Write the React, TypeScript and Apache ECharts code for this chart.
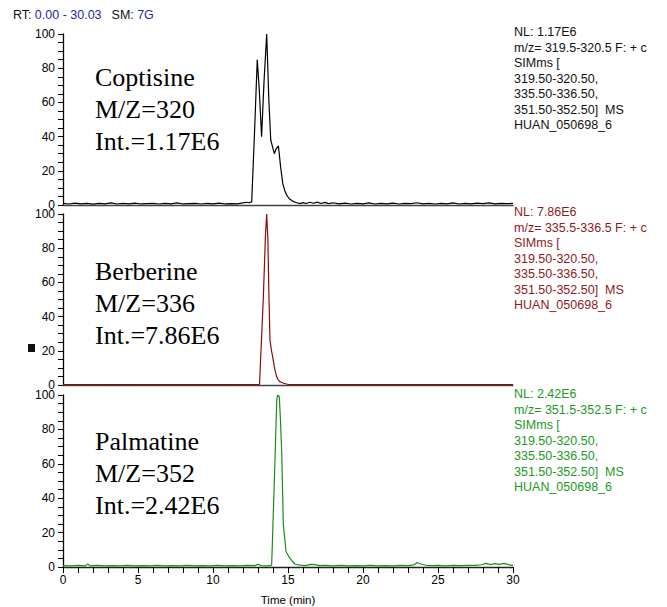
import React, { useEffect, useRef } from "react";
import * as echarts from "echarts";

const xTickValues = [0, 5, 10, 15, 20, 25, 30];
const yTickValues = [0, 20, 40, 60, 80, 100];

const coptisine: [number, number][] = [
  [0, 0.9], [0.4, 0.6], [0.8, 1.1], [1.2, 0.7], [1.6, 1.0], [2.0, 0.5], [2.4, 0.9], [2.8, 0.7],
  [3.2, 1.2], [3.6, 0.6], [4.0, 0.9], [4.4, 0.7], [4.8, 1.1], [5.2, 0.6], [5.6, 0.8], [6.0, 1.0],
  [6.4, 0.6], [6.8, 0.9], [7.2, 0.7], [7.6, 1.2], [8.0, 0.6], [8.4, 0.8], [8.8, 1.0], [9.2, 0.6],
  [9.6, 0.9], [10.0, 0.7], [10.4, 1.1], [10.8, 0.6], [11.2, 0.8], [11.6, 0.7], [12.0, 1.2], [12.2, 1.6],
  [12.4, 1.3], [12.58, 1.8], [12.78, 45], [12.95, 85], [13.08, 68], [13.24, 40], [13.4, 72], [13.58, 100],
  [13.72, 62], [13.85, 38], [13.97, 34], [14.09, 30], [14.22, 33], [14.36, 34.5], [14.44, 28], [14.51, 22],
  [14.65, 12.7], [14.78, 8.5], [14.91, 5.8], [15.1, 3.5], [15.36, 2], [15.6, 1.3], [15.8, 0.8], [16.0, 1.4],
  [16.2, 0.9], [16.45, 1.6], [16.7, 1.0], [16.95, 1.7], [17.2, 0.9], [17.45, 1.5], [17.7, 0.8], [18.0, 1.3],
  [18.4, 0.7], [18.8, 1.1], [19.2, 0.6], [19.6, 1.0], [20.0, 0.7], [20.4, 1.2], [20.8, 0.6], [21.2, 0.9],
  [21.6, 0.7], [22.0, 1.1], [22.4, 0.6], [22.8, 1.0], [23.2, 0.8], [23.6, 1.3], [24.0, 0.7], [24.4, 0.9],
  [24.8, 0.6], [25.2, 1.0], [25.6, 0.7], [26.0, 1.2], [26.4, 0.6], [26.8, 0.9], [27.2, 0.7], [27.6, 1.1],
  [28.0, 0.8], [28.4, 1.2], [28.8, 0.7], [29.2, 1.0], [29.6, 0.8], [30.0, 0.9],
];

const berberine: [number, number][] = [
  [0, 0.3], [2, 0.3], [4, 0.2], [6, 0.3], [8, 0.3], [10, 0.2], [12, 0.3], [13.1, 0.3],
  [13.35, 50], [13.5, 88], [13.58, 100], [13.66, 85], [13.72, 55], [13.8, 26], [13.9, 20], [13.98, 16.5],
  [14.1, 10], [14.24, 4.9], [14.35, 3], [14.47, 1.9], [14.7, 1], [15.02, 0.3], [18, 0.3], [22, 0.3],
  [26, 0.3], [30, 0.3],
];

const palmatine: [number, number][] = [
  [0, 0.8], [0.5, 0.6], [1.0, 0.9], [1.5, 0.7], [1.65, 1.8], [1.8, 0.7], [2.3, 0.9], [2.8, 0.6],
  [3.3, 0.8], [3.8, 0.7], [4.3, 0.9], [4.8, 0.6], [5.3, 0.8], [5.8, 0.7], [6.3, 0.9], [6.8, 0.6],
  [7.3, 0.8], [7.8, 0.7], [8.3, 0.9], [8.8, 0.6], [9.3, 0.8], [9.8, 0.7], [10.3, 0.9], [10.8, 0.6],
  [11.3, 0.8], [11.8, 0.7], [12.3, 0.9], [12.8, 0.8], [13.0, 1.6], [13.2, 0.8], [13.6, 0.7], [13.91, 1.0],
  [14.1, 53], [14.25, 97], [14.31, 100], [14.42, 99], [14.5, 85], [14.58, 67], [14.69, 24.4], [14.87, 8.9],
  [15.13, 5], [15.47, 1.6], [15.8, 1.1], [16.2, 0.8], [16.5, 1.5], [16.8, 1.4], [17.1, 0.8], [17.5, 0.9],
  [18.0, 0.7], [18.5, 0.9], [19.0, 0.7], [19.5, 0.8], [20.0, 0.7], [20.5, 0.9], [21.0, 0.7], [21.5, 0.8],
  [22.0, 0.7], [22.5, 0.9], [23.0, 0.8], [23.4, 1.2], [23.6, 2.6], [23.9, 1.6], [24.2, 1.0], [24.6, 0.8],
  [25.0, 1.0], [25.5, 0.7], [26.0, 0.9], [26.5, 0.8], [27.0, 1.0], [27.5, 0.9], [27.9, 1.3], [28.2, 2.1],
  [28.5, 1.4], [28.8, 2.0], [29.1, 1.5], [29.4, 2.1], [29.7, 1.4], [30.0, 0.8],
];

const compoundNames = ["Coptisine", "Berberine", "Palmatine"];
const mzLabels = ["M/Z=320", "M/Z=336", "M/Z=352"];
const intLabels = ["Int.=1.17E6", "Int.=7.86E6", "Int.=2.42E6"];
const nlLabels = ["NL: 1.17E6", "NL: 7.86E6", "NL: 2.42E6"];
const mzRanges = ["m/z= 319.5-320.5 F: + c", "m/z= 335.5-336.5 F: + c", "m/z= 351.5-352.5 F: + c"];
const scanLines = ["SIMms [", "319.50-320.50,", "335.50-336.50,", "351.50-352.50]  MS", "HUAN_050698_6"];
const headerRange = "0.00 - 30.03";
const headerSmooth = "7G";
const xAxisTitle = "Time (min)";

const SANS = "'Liberation Sans', Arial, Helvetica, sans-serif";
const SERIF = "'Liberation Serif', 'Times New Roman', serif";

const lineColors = ["#000000", "#8b0a0a", "#1a8c1a"];
const textColors = ["#111111", "#8e1b1b", "#229a22"];
const gridTops = [34, 214, 395];
const gridHeights = [171, 171, 172];
const labelTops = [77, 271, 441];
const infoTops = [32, 212, 394];

export default function App() {
  const ref = useRef<HTMLDivElement>(null);
  useEffect(() => {
    if (!ref.current) return;
    const chart = echarts.init(ref.current, undefined, { renderer: "svg" });
    const seriesData = [coptisine, berberine, palmatine];

    const grids = gridTops.map((t, i) => ({ left: 63, top: t, width: 450, height: gridHeights[i] }));

    const xAxes = [0, 1, 2].map((i) => {
      const last = i === 2;
      return {
        type: "value",
        gridIndex: i,
        min: xTickValues[0],
        max: xTickValues[xTickValues.length - 1],
        interval: 5,
        axisLine: { show: true, onZero: false, lineStyle: { color: last ? "#222" : "#444", width: 1.3 } },
        axisTick: { show: last, length: 6, lineStyle: { color: "#000", width: 1 } },
        minorTick: { show: last, splitNumber: 5, length: 6, lineStyle: { color: "#000", width: 1 } },
        axisLabel: { show: last, fontSize: 12, color: "#000", fontFamily: SANS, margin: 7 },
        splitLine: { show: false },
        minorSplitLine: { show: false },
        name: last ? xAxisTitle : "",
        nameLocation: "middle",
        nameGap: 27,
        nameTextStyle: { fontSize: 11.5, color: "#000", fontFamily: SANS },
      };
    });

    const yAxes = [0, 1, 2].map((i) => ({
      type: "value",
      gridIndex: i,
      min: yTickValues[0],
      max: yTickValues[yTickValues.length - 1],
      interval: 20,
      axisLine: { show: true, lineStyle: { color: "#000", width: 1.3 } },
      axisTick: { show: true, length: 5, lineStyle: { color: "#000", width: 1 } },
      minorTick: { show: true, splitNumber: 4, length: 5, lineStyle: { color: "#000", width: 1 } },
      axisLabel: { fontSize: 12, color: "#000", fontFamily: SANS, margin: 8 },
      splitLine: { show: false },
      minorSplitLine: { show: false },
    }));

    const series = seriesData.map((d, i) => ({
      type: "line",
      xAxisIndex: i,
      yAxisIndex: i,
      data: d,
      showSymbol: false,
      symbol: "none",
      lineStyle: { color: lineColors[i], width: 1.2 },
      z: 3,
    }));

    const graphics: any[] = [];
    graphics.push({
      type: "text",
      left: 13,
      top: 8,
      style: {
        text: `{k|RT:} {b|${headerRange}}   {k|SM:} {b|${headerSmooth}}`,
        rich: {
          k: { fontSize: 12.5, fontFamily: SANS, fill: "#111" },
          b: { fontSize: 12.5, fontFamily: SANS, fill: "#1f1fa8" },
        },
      },
    });
    for (let i = 0; i < 3; i++) {
      const lines = [compoundNames[i], mzLabels[i], intLabels[i]];
      lines.forEach((s, j) => {
        graphics.push({
          type: "text",
          x: 95,
          y: labelTops[i] + j * 32,
          style: {
            text: s,
            fontSize: 26,
            fontFamily: SERIF,
            fill: "#000",
            textVerticalAlign: "middle",
            verticalAlign: "middle",
          },
        });
      });
      const info = [nlLabels[i], mzRanges[i], ...scanLines];
      info.forEach((s, j) => {
        graphics.push({
          type: "text",
          x: 514,
          y: infoTops[i] + j * 15.5,
          style: {
            text: s,
            fontSize: 12.5,
            fontFamily: SANS,
            fill: textColors[i],
            verticalAlign: "middle",
            textVerticalAlign: "middle",
          },
        });
      });
    }
    graphics.push({
      type: "rect",
      shape: { x: 28, y: 344, width: 7, height: 8 },
      style: { fill: "#111" },
    });

    chart.setOption({
      animation: false,
      backgroundColor: "#ffffff",
      grid: grids,
      xAxis: xAxes,
      yAxis: yAxes,
      series,
      graphic: graphics,
    });
    return () => chart.dispose();
  }, []);
  return (
    <div
      ref={ref}
      style={{ position: "absolute", left: 0, top: 0, width: 667, height: 607 }}
    />
  );
}
